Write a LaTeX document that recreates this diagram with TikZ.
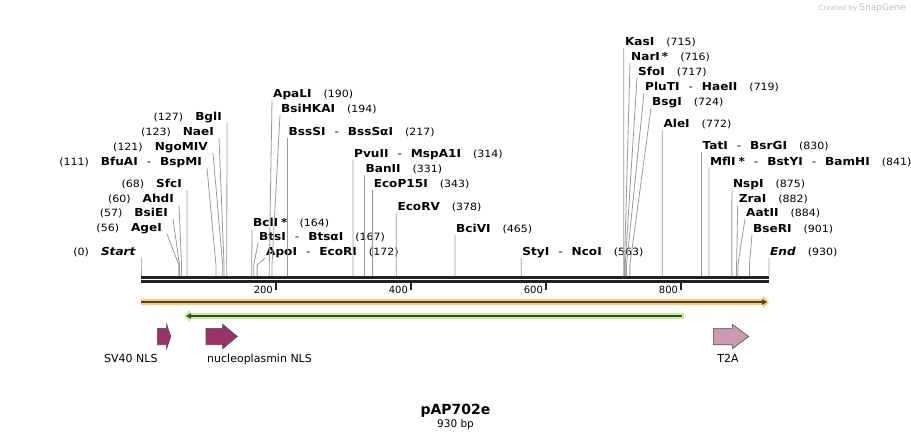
\documentclass[tikz,border=0pt]{standalone}
\usepackage{fontspec}
\setmainfont{DejaVu Sans}
\newfontfamily\enzfont[FakeStretch=1.1]{DejaVu Sans}
\usetikzlibrary{arrows.meta}

\definecolor{nlscol}{HTML}{993366}
\definecolor{t2acol}{HTML}{CC99B3}
\definecolor{orfhalo}{HTML}{F9C672}
\definecolor{orfhalotwo}{HTML}{C2F592}
\definecolor{cutgray}{HTML}{999999}
\definecolor{seqblack}{HTML}{222222}

\newcommand\enzpos[1]{{\mdseries\fontsize{10}{12}\selectfont(#1)}}
\newcommand\possep{\hspace{12pt}}
\newcommand\namesep{\hspace{9pt}{\mdseries-}\hspace{9pt}}
\newcommand\cutline[2]{\draw[cut] (#1) -- (#2 |- bend) -- (#2);}

\tikzset{
  enz/.style={font=\enzfont\fontsize{11}{13}\selectfont\bfseries,
    inner ysep=0pt, text depth=2pt, text height=8pt},
  enzl/.style={enz, inner xsep=5pt, anchor=south east},
  enzr/.style={enz, inner xsep=1pt, anchor=south west},
  cut/.style={draw=cutgray, line width=0.8pt},
  feat/.style={draw=black!70, line width=0.6pt, line join=miter},
  featlbl/.style={font=\fontsize{11}{13}\selectfont, anchor=base west, inner sep=0pt},
}

\begin{document}
\begin{tikzpicture}[x=1pt, y=-1pt, declare function={bp(\n)=141+0.675269*\n;}]
    \useasboundingbox (0,0) rectangle (911,439);

    % sequence backbone
    \coordinate (seqa) at (141,0);
    \coordinate (seqb) at (769,0);
    \coordinate (bend) at (0,265);
    \draw[seqblack, line width=3pt] (seqa |- 0,277.5) -- (seqb |- 0,277.5);
    \draw[seqblack, line width=2.5pt] (seqa |- 0,281.6) -- (seqb |- 0,281.6);
    \foreach \t in {200,400,600,800} {
        \draw[seqblack, line width=2pt] ({bp(\t)},283) -- ({bp(\t)},289.5);
        \node[font=\fontsize{10}{12}\selectfont, anchor=base east, inner sep=0pt] (tick\t) at ({bp(\t)-3},293) {\t};
    }

    % cut sites
    \foreach \p in {0,56,57,60,68,111,121,123,127,164,167,172,190,194,217,314,331,343,378,465,563,715,716,717,719,724,772,830,841,875,882,884,901,930}
        \coordinate (s\p) at ({bp(\p)},276);

    % labels left of their line
    \node[enzl] (start) at (141,258) {\enzpos{0}\possep\textit{Start}};
    \node[enzl] (agei) at (167,234) {\enzpos{56}\possep AgeI};
    \node[enzl] (bsiei) at (173,219) {\enzpos{57}\possep BsiEI};
    \node[enzl] (ahdi) at (179,205) {\enzpos{60}\possep AhdI};
    \node[enzl] (sfci) at (187,190) {\enzpos{68}\possep SfcI};
    \node[enzl] (bfuai) at (207,168) {\enzpos{111}\possep BfuAI\namesep BspMI};
    \node[enzl] (ngomiv) at (213,153) {\enzpos{121}\possep NgoMIV};
    \node[enzl] (naei) at (219,138) {\enzpos{123}\possep NaeI};
    \node[enzl] (bgli) at (227,123) {\enzpos{127}\possep BglI};
    \cutline{start.south east}{s0}
    \cutline{agei.south east}{s56}
    \cutline{bsiei.south east}{s57}
    \cutline{ahdi.south east}{s60}
    \cutline{sfci.south east}{s68}
    \cutline{bfuai.south east}{s111}
    \cutline{ngomiv.south east}{s121}
    \cutline{naei.south east}{s123}
    \cutline{bgli.south east}{s127}

    % labels right of their line
    \node[enzr] (bcli) at (252,229) {BclI\hspace{3pt}*\possep\enzpos{164}};
    \node[enzr] (btsi) at (258,243) {BtsI\namesep BtsαI\possep\enzpos{167}};
    \node[enzr] (apoi) at (265,258) {ApoI\namesep EcoRI\possep\enzpos{172}};
    \node[enzr] (apali) at (272,100) {ApaLI\possep\enzpos{190}};
    \node[enzr] (bsihkai) at (280,115) {BsiHKAI\possep\enzpos{194}};
    \node[enzr] (bsssi) at (287.5,138) {BssSI\namesep BssSαI\possep\enzpos{217}};
    \node[enzr] (pvuii) at (353,160) {PvuII\namesep MspA1I\possep\enzpos{314}};
    \node[enzr] (banii) at (364.5,175) {BanII\possep\enzpos{331}};
    \node[enzr] (ecopi) at (372.6,190) {EcoP15I\possep\enzpos{343}};
    \node[enzr] (ecorv) at (396.3,213) {EcoRV\possep\enzpos{378}};
    \node[enzr] (bcivi) at (455,235) {BciVI\possep\enzpos{465}};
    \node[enzr] (styi) at (521.2,258) {StyI\namesep NcoI\possep\enzpos{563}};
    \node[enzr] (kasi) at (623.8,48) {KasI\possep\enzpos{715}};
    \node[enzr] (nari) at (630,63) {NarI\hspace{2pt}*\possep\enzpos{716}};
    \node[enzr] (sfoi) at (637,78) {SfoI\possep\enzpos{717}};
    \node[enzr] (pluti) at (644,93) {PluTI\namesep HaeII\possep\enzpos{719}};
    \node[enzr] (bsgi) at (651,108) {BsgI\possep\enzpos{724}};
    \node[enzr] (alei) at (662.3,130) {AleI\possep\enzpos{772}};
    \node[enzr] (tati) at (701.5,152) {TatI\namesep BsrGI\possep\enzpos{830}};
    \node[enzr] (mfli) at (708.9,168) {MflI\hspace{3pt}*\namesep BstYI\namesep BamHI\possep\enzpos{841}};
    \node[enzr] (nspi) at (731.9,190) {NspI\possep\enzpos{875}};
    \node[enzr] (zrai) at (737.7,205) {ZraI\possep\enzpos{882}};
    \node[enzr] (aatii) at (745,219) {AatII\possep\enzpos{884}};
    \node[enzr] (bseri) at (752,235) {BseRI\possep\enzpos{901}};
    \node[enzr] (endlbl) at (769,258) {\textit{End}\possep\enzpos{930}};
    \cutline{bcli.south west}{s164}
    \cutline{btsi.south west}{s167}
    \cutline{apoi.south west}{s172}
    \cutline{apali.south west}{s190}
    \cutline{bsihkai.south west}{s194}
    \cutline{bsssi.south west}{s217}
    \cutline{pvuii.south west}{s314}
    \cutline{banii.south west}{s331}
    \cutline{ecopi.south west}{s343}
    \cutline{ecorv.south west}{s378}
    \cutline{bcivi.south west}{s465}
    \cutline{styi.south west}{s563}
    \cutline{kasi.south west}{s715}
    \cutline{nari.south west}{s716}
    \cutline{sfoi.south west}{s717}
    \cutline{pluti.south west}{s719}
    \cutline{bsgi.south west}{s724}
    \cutline{alei.south west}{s772}
    \cutline{tati.south west}{s830}
    \cutline{mfli.south west}{s841}
    \cutline{nspi.south west}{s875}
    \cutline{zrai.south west}{s882}
    \cutline{aatii.south west}{s884}
    \cutline{bseri.south west}{s901}
    \cutline{endlbl.south west}{s930}

    % open reading frames
    \draw[orfhalo, line width=6pt, -{Triangle[length=6pt, width=12pt]}] (141,302) -- (769,302);
    \draw[seqblack!85, line width=1.5pt, -{Triangle[length=5pt, width=5.5pt]}] (141,302) -- (767,302);
    \draw[orfhalotwo, line width=6pt, -{Triangle[length=6pt, width=12pt]}] (684,316) -- (184,316);
    \draw[seqblack!85, line width=1.5pt, -{Triangle[length=5pt, width=5.5pt]}] (682,316) -- (186,316);

    % features
    \draw[feat, fill=nlscol] (157.3,328.3) -- (166.7,328.3) -- (166.7,324.3) -- (170.7,336.5)
        -- (166.7,348.7) -- (166.7,344.7) -- (157.3,344.7) -- cycle;
    \draw[feat, fill=nlscol] (206,328.3) -- (222.7,328.3) -- (222.7,324.3) -- (237.3,336.5)
        -- (222.7,348.7) -- (222.7,344.7) -- (206,344.7) -- cycle;
    \draw[feat, fill=t2acol] (713.3,328.3) -- (732.3,328.3) -- (732.3,324.3) -- (748.7,336.5)
        -- (732.3,348.7) -- (732.3,344.7) -- (713.3,344.7) -- cycle;
    \node[featlbl] (sv40) at (104,362) {SV40 NLS};
    \node[featlbl] (npnls) at (207,362) {nucleoplasmin NLS};
    \node[featlbl, anchor=base] (t2a) at (728,362) {T2A};

    % title
    \node[font=\fontsize{14}{16}\selectfont\bfseries, anchor=base] (title) at (455.5,414) {pAP702e};
    \node[font=\fontsize{10.5}{12}\selectfont, anchor=base] (size) at (455.5,427) {930 bp};
    \node[font=\fontsize{7}{8}\selectfont, text=black!25, anchor=base east, inner sep=0pt] (credit) at (906,10) {Created by \fontsize{9}{10}\selectfont SnapGene};
\end{tikzpicture}
\end{document}
